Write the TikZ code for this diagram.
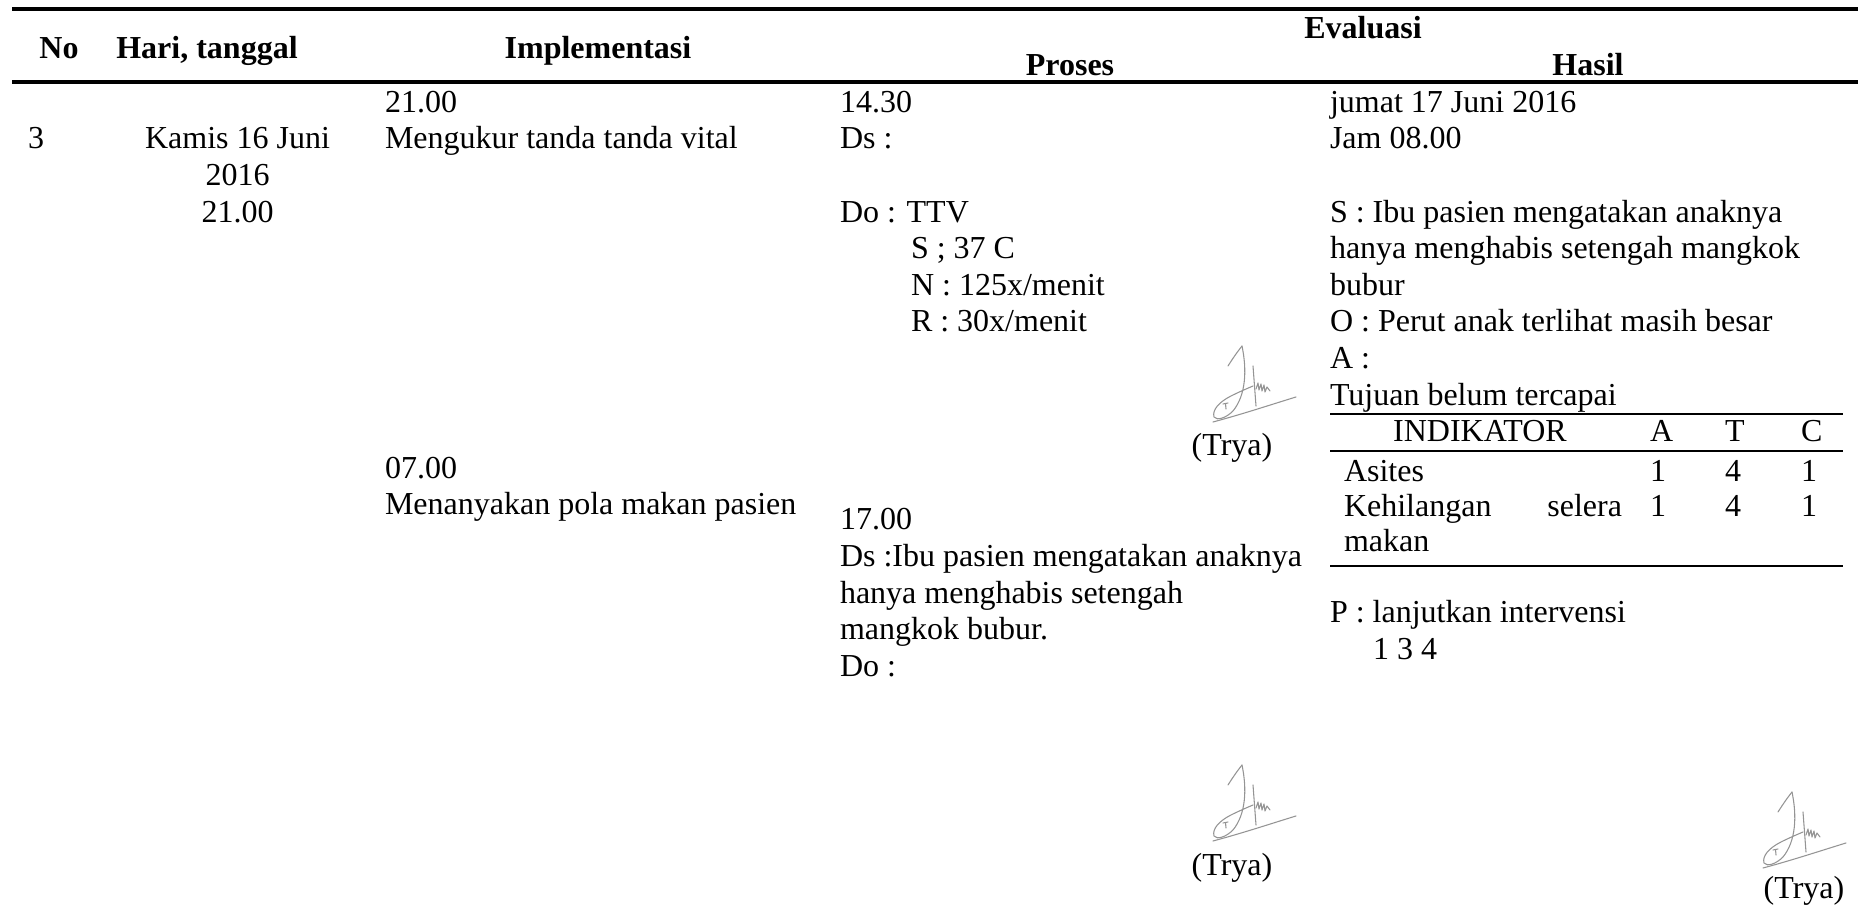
\documentclass[tikz,border=0pt]{standalone}
\usepackage{fontspec}
\setmainfont{Liberation Serif}
\begin{document}
\begin{tikzpicture}[x=0.375pt,y=-0.375pt,
  txt/.style={inner sep=0pt, outer sep=0pt, font=\fontsize{12}{13.8}\selectfont},
  lt/.style={txt, anchor=base west},
  ct/.style={txt, anchor=base},
  rt/.style={txt, anchor=base east},
  hd/.style={txt, anchor=base, font=\fontsize{12}{13.8}\selectfont\bfseries},
  mainrule/.style={line width=1.2pt},
  tabrule/.style={line width=0.8pt},
  sig/.style={draw=black!42, line width=0.4pt, line cap=round, line join=round}
]
\useasboundingbox (0,0) rectangle (1858,907);

% handwritten signature, origin at the lower left of its loop
\newcommand\tryasign[1]{%
  \begin{scope}[shift={#1}]
    \draw[sig] (15,-54) .. controls (20,-62) and (25,-69) .. (29,-74);
    \draw[sig] (29,-74) .. controls (34,-50) and (33,-25) .. (20,-9)
      .. controls (13,-2) and (4,1) .. (1,-3)
      .. controls (-1,-10) and (6,-18) .. (18,-24)
      .. controls (26,-28) and (33,-31) .. (40,-34);
    \draw[sig] (0,2) .. controls (30,-6) and (60,-16) .. (83,-23);
    \draw[sig] (40,-54) -- (43,-14);
    \draw[sig] (43,-31) -- (45,-37) -- (46,-30) -- (48,-36) -- (49,-29)
      -- (51,-35) -- (52,-28) -- (54,-33) -- (57,-29);
    \draw[sig] (10,-16) -- (15,-17) (12.5,-16.5) -- (13,-11);
  \end{scope}}

% header rules
\coordinate (topL) at (12,9);   \coordinate (topR) at (1858,9);
\coordinate (midL) at (12,82);  \coordinate (midR) at (1858,82);
\draw[mainrule] (topL) -- (topR);
\draw[mainrule] (midL) -- (midR);

% header
\node[hd] (hNo)    at (59,59)   {No};
\node[hd] (hHari)  at (207,59)  {Hari, tanggal};
\node[hd] (hImpl)  at (598,59)  {Implementasi};
\node[hd] (hEval)  at (1363,39) {Evaluasi};
\node[hd] (hProses) at (1070,76) {Proses};
\node[hd] (hHasil) at (1588,76) {Hasil};

% No / Hari, tanggal
\node[lt] (no)    at (28,148.9)    {3};
\node[ct] (hari1) at (237.5,148.9) {Kamis 16 Juni};
\node[ct] (hari2) at (237.5,185.5) {2016};
\node[ct] (hari3) at (237.5,222.1) {21.00};

% Implementasi
\node[lt] (im1) at (385,112.3) {21.00};
\node[lt] (im2) at (385,148.9) {Mengukur tanda tanda vital};
\node[lt] (im3) at (385,478.3) {07.00};
\node[lt] (im4) at (385,514.9) {Menanyakan pola makan pasien};

% Proses
\node[lt] (pr1) at (840,112.3) {14.30};
\node[lt] (pr2) at (840,148.9) {Ds :};
\node[lt] (pr3) at (840,222.1) {Do : TTV};
\node[lt] (pr4) at (911,258.7) {S ; 37 C};
\node[lt] (pr5) at (911,295.3) {N : 125x/menit};
\node[lt] (pr6) at (911,331.9) {R : 30x/menit};
\tryasign{(1213,420)}
\node[ct] (sig1) at (1232,456) {(Trya)};
\node[lt] (pr7) at (840,530)   {17.00};
\node[lt] (pr8) at (840,566.6) {Ds :Ibu pasien mengatakan anaknya};
\node[lt] (pr9) at (840,603.2) {hanya menghabis setengah};
\node[lt] (pr10) at (840,639.8) {mangkok bubur.};
\node[lt] (pr11) at (840,676.4) {Do :};
\tryasign{(1213,839)}
\node[ct] (sig2) at (1232,876) {(Trya)};

% Hasil
\node[lt] (ha1) at (1330,112.3) {jumat 17 Juni 2016};
\node[lt] (ha2) at (1330,148.9) {Jam 08.00};
\node[lt] (ha3) at (1330,222.1) {S : Ibu pasien mengatakan anaknya};
\node[lt] (ha4) at (1330,258.7) {hanya menghabis setengah mangkok};
\node[lt] (ha5) at (1330,295.3) {bubur};
\node[lt] (ha6) at (1330,331.9) {O : Perut anak terlihat masih besar};
\node[lt] (ha7) at (1330,368.5) {A :};
\node[lt] (ha8) at (1330,405.1) {Tujuan belum tercapai};

% indicator table
\coordinate (t1L) at (1330,414); \coordinate (t1R) at (1843,414);
\coordinate (t2L) at (1330,451); \coordinate (t2R) at (1843,451);
\coordinate (t3L) at (1330,566); \coordinate (t3R) at (1843,566);
\draw[tabrule] (t1L) -- (t1R);
\draw[tabrule] (t2L) -- (t2R);
\draw[tabrule] (t3L) -- (t3R);
\node[ct] (tInd) at (1480,442) {INDIKATOR};
\node[lt] (tA) at (1650,442) {A};
\node[lt] (tT) at (1725,442) {T};
\node[lt] (tC) at (1801,442) {C};
\node[lt] (r1) at (1344,482) {Asites};
\node[lt] (r1a) at (1650,482) {1};
\node[lt] (r1t) at (1725,482) {4};
\node[lt] (r1c) at (1801,482) {1};
\node[lt] (r2) at (1344,517) {Kehilangan};
\node[rt] (r2b) at (1622,517) {selera};
\node[lt] (r2a) at (1650,517) {1};
\node[lt] (r2t) at (1725,517) {4};
\node[lt] (r2c) at (1801,517) {1};
\node[lt] (r3) at (1344,552) {makan};

\node[lt] (ha9)  at (1330,623) {P : lanjutkan intervensi};
\node[lt] (ha10) at (1373,660) {1 3 4};
\tryasign{(1763,866)}
\node[ct] (sig3) at (1804,899) {(Trya)};
\end{tikzpicture}
\end{document}
